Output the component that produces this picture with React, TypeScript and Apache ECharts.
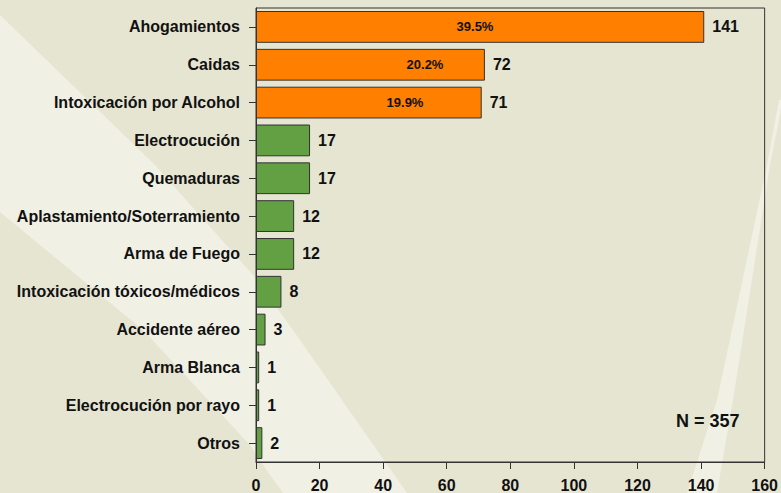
import React, { useEffect, useRef } from "react";
import * as echarts from "echarts";

const categories = [
  "Ahogamientos",
  "Caidas",
  "Intoxicación por Alcohol",
  "Electrocución",
  "Quemaduras",
  "Aplastamiento/Soterramiento",
  "Arma de Fuego",
  "Intoxicación tóxicos/médicos",
  "Accidente aéreo",
  "Arma Blanca",
  "Electrocución por rayo",
  "Otros",
];
const values = [141, 72, 71, 17, 17, 12, 12, 8, 3, 1, 1, 2];
const percentLabels = ["39.5%", "20.2%", "19.9%"];
const totalLabel = "N = 357";
const xTicks = [0, 20, 40, 60, 80, 100, 120, 140, 160];

// styling (not data)
const percentLabelX = [219, 169, 149];
const ORANGE = "#FF8000";
const GREEN = "#62A043";
const DARK = "#E6E5D1";
const LIGHT = "#F0F0E4";
const FONT = "'Liberation Sans', Arial, sans-serif";

export default function App() {
  const ref = useRef<HTMLDivElement>(null);
  useEffect(() => {
    if (!ref.current) return;
    const chart = echarts.init(ref.current, undefined, { renderer: "svg" });
    const highlighted = percentLabels.length;
    const data = values.map((v, i) => ({
      value: v,
      itemStyle: { color: i < highlighted ? ORANGE : GREEN },
    }));
    const pctData = values.map((v, i) => {
      if (i >= highlighted) return { value: v, label: { show: false } };
      return {
        value: v,
        label: {
          show: true,
          formatter: percentLabels[i],
          position: [percentLabelX[i], "50%"],
          align: "center",
          verticalAlign: "middle",
        },
      };
    });
    chart.setOption({
      animation: false,
      backgroundColor: DARK,
      textStyle: { fontFamily: FONT },
      graphic: [
        {
          type: "polygon",
          silent: true,
          z: -100,
          shape: {
            points: [
              [0, 15],
              [155, 165],
              [253, 275],
              [293, 330],
              [407, 493],
              [283, 493],
              [263, 465],
              [250, 445],
              [143, 330],
              [0, 212],
            ],
          },
          style: { fill: LIGHT },
        },
        {
          type: "polygon",
          silent: true,
          z: -100,
          shape: {
            points: [
              [779, 100],
              [781, 100],
              [781, 110],
              [770, 165],
              [733, 400],
              [717, 493],
              [687, 493],
              [717, 400],
              [767, 165],
            ],
          },
          style: { fill: LIGHT },
        },
        {
          type: "text",
          left: 676,
          top: 412,
          style: {
            text: totalLabel,
            font: `bold 18px ${FONT}`,
            fill: "#111",
          },
        },
      ],
      grid: {
        left: 256,
        right: 13,
        top: 8,
        bottom: 30,
        show: true,
        borderColor: "#333",
        borderWidth: 1,
        backgroundColor: "transparent",
      },
      xAxis: {
        type: "value",
        min: xTicks[0],
        max: xTicks[xTicks.length - 1],
        interval: xTicks[1] - xTicks[0],
        splitLine: { show: false },
        axisLine: { show: true, lineStyle: { color: "#333", width: 1 } },
        axisTick: { show: true, length: 7, lineStyle: { color: "#333" } },
        axisLabel: {
          margin: 15,
          color: "#111",
          fontWeight: "bold",
          fontSize: 16,
          fontFamily: FONT,
        },
      },
      yAxis: {
        type: "category",
        data: categories,
        inverse: true,
        axisLine: { show: true, lineStyle: { color: "#333", width: 1 } },
        axisTick: { show: true, length: 7, alignWithLabel: true, lineStyle: { color: "#333" } },
        axisLabel: {
          margin: 16,
          color: "#111",
          fontWeight: "bold",
          fontSize: 16,
          fontFamily: FONT,
        },
      },
      series: [
        {
          type: "bar",
          data,
          barCategoryGap: "16%",
          itemStyle: { borderColor: "#333", borderWidth: 1 },
          label: {
            show: true,
            position: "right",
            distance: 8,
            color: "#111",
            fontWeight: "bold",
            fontSize: 16,
            fontFamily: FONT,
          },
          z: 3,
        },
        {
          type: "bar",
          data: pctData,
          barCategoryGap: "16%",
          barGap: "-100%",
          itemStyle: { color: "transparent", borderWidth: 0 },
          label: {
            color: "#111",
            fontWeight: "bold",
            fontSize: 13,
            fontFamily: FONT,
          },
          z: 4,
          silent: true,
        },
      ],
    });
    return () => chart.dispose();
  }, []);
  return (
    <div
      ref={ref}
      style={{ position: "fixed", left: 0, top: 0, width: 781, height: 493 }}
    />
  );
}
